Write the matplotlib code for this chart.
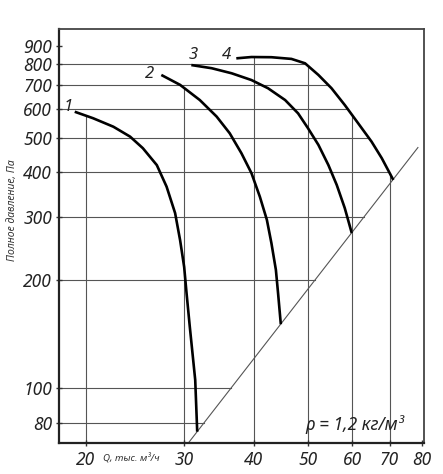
import numpy as np
import matplotlib
matplotlib.use("Agg")
import matplotlib.pyplot as plt
from matplotlib.ticker import NullLocator, FixedLocator, FixedFormatter

# fan curves: Q, thousand m3/h  /  total pressure, Pa
q1 = [19.1, 20.6, 22.4, 24.0, 25.3, 26.8, 27.9, 28.9, 29.5, 30.0, 30.3, 30.7, 31.4, 31.66]
p1 = [590, 566, 536, 503, 467, 419, 365, 308, 259, 218, 184, 149, 105.6, 75.8]
q2 = [27.3, 29.5, 32.0, 34.3, 36.2, 38.0, 39.6, 41.0, 42.2, 43.0, 43.8, 44.2, 44.7]
p2 = [747, 701, 636, 572, 514, 452, 398, 342, 295, 254, 214, 184, 151]
q3 = [30.9, 33.6, 36.5, 39.6, 42.4, 45.5, 48.0, 50.0, 52.2, 54.4, 56.3, 58.2, 59.9]
p3 = [796, 780, 755, 723, 686, 636, 584, 531, 477, 419, 369, 318, 271]
q4 = [37.2, 39.6, 43.0, 46.7, 49.4, 52.2, 55.1, 58.2, 61.5, 65.0, 67.8, 71.1]
p4 = [831, 838, 837, 828, 805, 747, 686, 616, 548, 487, 438, 381]
curve_names = ["1", "2", "3", "4"]

# system line (P ~ Q^2)
diag_q = [30.5, 78.7]
diag_p = [70.4, 469]

xticks = [20, 30, 40, 50, 60, 70, 80]
yticks = [80, 100, 200, 300, 400, 500, 600, 700, 800, 900]
xgrid = [20, 30, 40, 50, 60, 70]
ygrid = [80, 100, 200, 300, 400, 500, 600, 700, 800]

plt.rcParams['font.family'] = ['Noto Sans', 'DejaVu Sans']
plt.rcParams['font.style'] = 'italic'

fig = plt.figure(figsize=(4.43, 4.74), dpi=100)
ax = fig.add_axes([0.1332, 0.0654, 0.8239, 0.8734])
ax.set_xscale('log')
ax.set_yscale('log')
ax.set_xlim(17.9, 80.7)
ax.set_ylim(70.5, 1003)

curves = [(q1, p1), (q2, p2), (q3, p3), (q4, p4)]
lq = lambda v: np.log10(np.asarray(v, dtype=float))

# vertical grid: from the bottom up to the highest curve
gcol = '#555555'
for xg in xgrid:
    tops = []
    for q, p in curves:
        if q[0] <= xg <= q[-1]:
            tops.append(10 ** np.interp(np.log10(xg), lq(q), lq(p)))
    top = max(tops) if tops else ax.get_ylim()[1]
    ax.plot([xg, xg], [ax.get_ylim()[0], top], color=gcol, lw=0.8, zorder=1)

# horizontal grid: from the left edge to curve 4, then the system line
imax = int(np.argmax(p4))
q4d = lq(q4[imax:])[::-1]
p4d = lq(p4[imax:])[::-1]
for yg in ygrid:
    if yg >= p4[-1]:
        right = 10 ** np.interp(np.log10(yg), p4d, q4d)
    else:
        right = 10 ** np.interp(np.log10(yg), lq(diag_p), lq(diag_q))
    ax.plot([ax.get_xlim()[0], right], [yg, yg], color=gcol, lw=0.8, zorder=1)

ax.plot(diag_q, diag_p, color='#555555', lw=0.8, zorder=2)

for q, p in curves:
    ax.plot(q, p, color='black', lw=1.9, solid_capstyle='butt', solid_joinstyle='round', zorder=3)

label_pos = [(18.6, 610), (26.0, 752), (31.1, 849), (35.7, 849)]
for name, (lx, ly) in zip(curve_names, label_pos):
    ax.text(lx, ly, name, fontsize=12, ha='center', va='center', color='#222222')

ax.xaxis.set_major_locator(FixedLocator(xticks))
ax.xaxis.set_major_formatter(FixedFormatter([str(v) for v in xticks]))
ax.xaxis.set_minor_locator(NullLocator())
ax.yaxis.set_major_locator(FixedLocator(yticks))
ax.yaxis.set_major_formatter(FixedFormatter([str(v) for v in yticks]))
ax.yaxis.set_minor_locator(NullLocator())
ax.tick_params(axis='both', direction='inout', length=4, width=1, color='#333333',
               labelsize=12.5, labelcolor='#222222')
ax.tick_params(axis='y', pad=3)
ax.tick_params(axis='x', pad=4)

for side in ['left', 'bottom']:
    ax.spines[side].set_linewidth(1.6)
    ax.spines[side].set_color('#222222')
for side in ['top', 'right']:
    ax.spines[side].set_linewidth(1.3)
    ax.spines[side].set_color('#444444')

ax.text(0.81, 0.045, 'ρ = 1,2 кг/м³', transform=ax.transAxes, fontsize=12.5,
        ha='center', va='center', color='#222222')
fig.text(0.029, 0.557, 'Полное давление, Па', rotation=90, fontsize=7.5,
         ha='center', va='center', color='#333333')
fig.text(0.296, 0.034, 'Q, тыс. м³/ч', fontsize=7, ha='center', va='center', color='#333333')

fig.savefig('out.png', dpi=100)
